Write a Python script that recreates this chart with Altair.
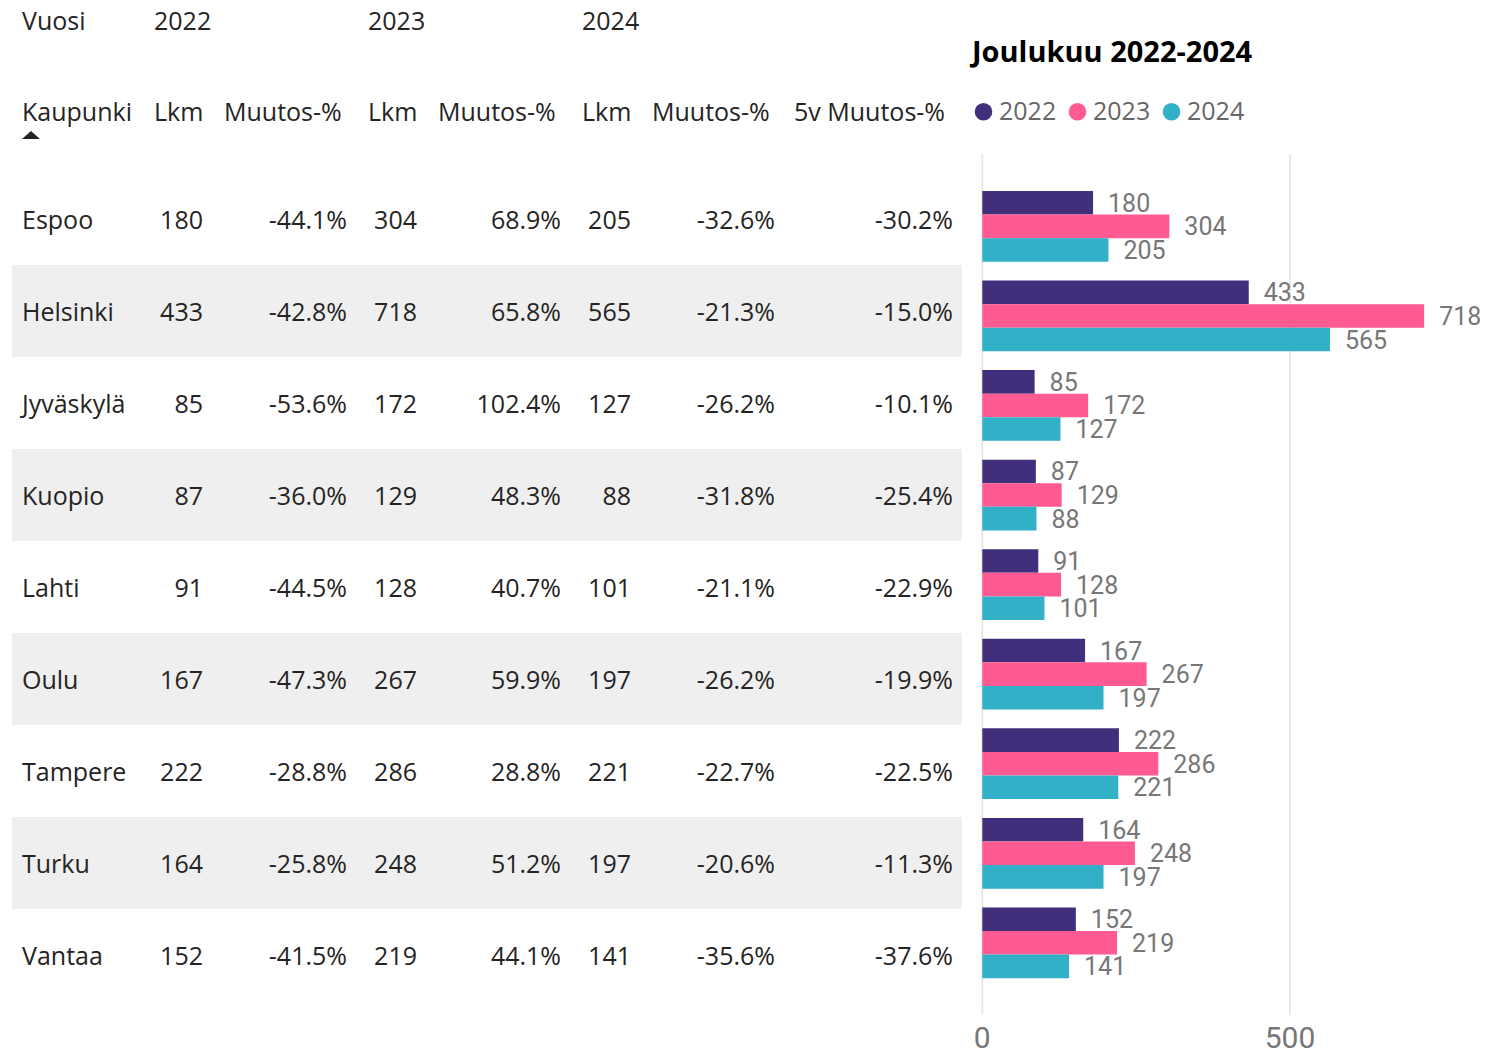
import altair as alt
import pandas as pd

# ---------------- data ----------------
cities = ["Espoo", "Helsinki", "Jyväskylä", "Kuopio", "Lahti", "Oulu", "Tampere", "Turku", "Vantaa"]
lkm_2022 = [180, 433, 85, 87, 91, 167, 222, 164, 152]
muutos_2022 = [-44.1, -42.8, -53.6, -36.0, -44.5, -47.3, -28.8, -25.8, -41.5]
lkm_2023 = [304, 718, 172, 129, 128, 267, 286, 248, 219]
muutos_2023 = [68.9, 65.8, 102.4, 48.3, 40.7, 59.9, 28.8, 51.2, 44.1]
lkm_2024 = [205, 565, 127, 88, 101, 197, 221, 197, 141]
muutos_2024 = [-32.6, -21.3, -26.2, -31.8, -21.1, -26.2, -22.7, -20.6, -35.6]
muutos_5v = [-30.2, -15.0, -10.1, -25.4, -22.9, -19.9, -22.5, -11.3, -37.6]

years = ["2022", "2023", "2024"]
header_years = ["Vuosi", "2022", "2023", "2024"]
header_cols = ["Kaupunki", "Lkm", "Muutos-%", "Lkm", "Muutos-%", "Lkm", "Muutos-%", "5v Muutos-%"]
axis_ticks = [0, 500]
title_text = "Joulukuu 2022-2024"

# ---------------- styles / layout ----------------
year_colors = ["#412F7B", "#FF5A91", "#31B0C8"]
TXT = "#252423"
FONT = "Open Sans"
NUMFONT = "Roboto"
FS = 25

W, H = 1473, 1041
header_year_x = [14, 146, 360, 574]
header_col_x = [14, 146, 216, 360, 430, 574, 644, 786]
col_right_x = [195, 339, 409, 553, 623, 767, 945]

# ---------------- tables ----------------
fmt_pct = lambda vals: [f"{v:.1f}%" for v in vals]
table = pd.DataFrame({
    "city": cities,
    "row": list(range(len(cities))),
    "c1": [str(v) for v in lkm_2022],
    "c2": fmt_pct(muutos_2022),
    "c3": [str(v) for v in lkm_2023],
    "c4": fmt_pct(muutos_2023),
    "c5": [str(v) for v in lkm_2024],
    "c6": fmt_pct(muutos_2024),
    "c7": fmt_pct(muutos_5v),
})

bars = pd.DataFrame({
    "city": [c for c in cities for _ in years],
    "year": [y for _ in cities for y in years],
    "value": [v for trip in zip(lkm_2022, lkm_2023, lkm_2024) for v in trip],
})

ytab = alt.Y("city:N", sort=cities, axis=None,
             scale=alt.Scale(type="band", domain=cities, range=[165, 993],
                             paddingInner=0, paddingOuter=0))

layers = []

# row shading
layers.append(
    alt.Chart(table).transform_filter("datum.row % 2 == 1")
    .mark_rect(color="#EFEFEF")
    .encode(y=ytab, x=alt.value(4), x2=alt.value(954))
)

# city names
layers.append(
    alt.Chart(table).mark_text(align="left", baseline="middle", dy=2, font=FONT, fontSize=FS, color=TXT)
    .encode(y=ytab, x=alt.value(14), text="city:N")
)
for i, col in enumerate(["c1", "c2", "c3", "c4", "c5", "c6", "c7"]):
    layers.append(
        alt.Chart(table).mark_text(align="right", baseline="middle", dy=2, font=FONT, fontSize=FS, color=TXT)
        .encode(y=ytab, x=alt.value(col_right_x[i]), text=f"{col}:N")
    )

# header rows
hy = pd.DataFrame({"label": header_years, "i": list(range(len(header_years)))})
for i in range(len(header_years)):
    layers.append(
        alt.Chart(hy).transform_filter(f"datum.i == {i}")
        .mark_text(align="left", baseline="middle", font=FONT, fontSize=FS, color=TXT)
        .encode(x=alt.value(header_year_x[i]), y=alt.value(14), text="label:N")
    )
hc = pd.DataFrame({"label": header_cols, "i": list(range(len(header_cols)))})
for i in range(len(header_cols)):
    layers.append(
        alt.Chart(hc).transform_filter(f"datum.i == {i}")
        .mark_text(align="left", baseline="middle", font=FONT, fontSize=FS, color=TXT)
        .encode(x=alt.value(header_col_x[i]), y=alt.value(105), text="label:N")
    )

# sort indicator triangle
layers.append(
    alt.Chart(hc).transform_filter("datum.i == 0")
    .mark_point(shape="M-1,0.45L1,0.45L0,-0.45Z", filled=True, size=324, color=TXT, opacity=1)
    .encode(x=alt.value(23), y=alt.value(127))
)

# ---------------- bar chart ----------------
xs = alt.Scale(domain=[0, 800], range=[974.3, 1466.6], nice=False, zero=True)
ybar = alt.Y("city:N", sort=cities, axis=None,
             scale=alt.Scale(type="band", domain=cities, range=[173.6, 979.6],
                             paddingInner=0.21, paddingOuter=0.105))
yoff = alt.YOffset("year:N", sort=years, scale=alt.Scale(domain=years, paddingInner=0, paddingOuter=0))
color = alt.Color("year:N", sort=years,
                  scale=alt.Scale(domain=years, range=year_colors),
                  legend=alt.Legend(title=None, orient="none", direction="horizontal",
                                    legendX=963, legendY=91, padding=0,
                                    symbolType="circle", symbolSize=310, symbolStrokeWidth=0,
                                    symbolOpacity=1,
                                    labelFont=FONT, labelFontSize=FS, labelColor="#666666",
                                    labelOffset=3, columnPadding=8))

ticks = pd.DataFrame({"t": axis_ticks})
layers.append(
    alt.Chart(ticks).mark_rule(color="#E9E9E9", strokeWidth=2)
    .encode(x=alt.X("t:Q", scale=xs, axis=None), y=alt.value(146), y2=alt.value(1007))
)
layers.append(
    alt.Chart(ticks).mark_text(align="center", baseline="alphabetic", font=NUMFONT, fontSize=30, color="#777777")
    .encode(x=alt.X("t:Q", scale=xs, axis=None), y=alt.value(1040), text="t:Q")
)
layers.append(
    alt.Chart(bars).mark_bar()
    .encode(x=alt.X("value:Q", scale=xs, axis=None), y=ybar, yOffset=yoff, color=color)
)
layers.append(
    alt.Chart(bars).mark_text(align="left", baseline="middle", dx=15, dy=1, font=NUMFONT, fontSize=25, color="#777777")
    .encode(x=alt.X("value:Q", scale=xs, axis=None), y=ybar, yOffset=yoff, text="value:Q")
)

# title
layers.append(
    alt.Chart(pd.DataFrame({"t": [title_text]}))
    .mark_text(align="left", baseline="middle", font=FONT, fontSize=29, fontWeight="bold", color="#000000")
    .encode(x=alt.value(964), y=alt.value(45), text="t:N")
)

chart = (
    alt.layer(*layers)
    .resolve_scale(y="independent", x="independent")
    .properties(width=W, height=H, padding=0, autosize=alt.AutoSizeParams(type="none"))
    .configure_view(stroke=None)
)

chart.save("out.html", embed_options={"renderer": "svg", "actions": False})
